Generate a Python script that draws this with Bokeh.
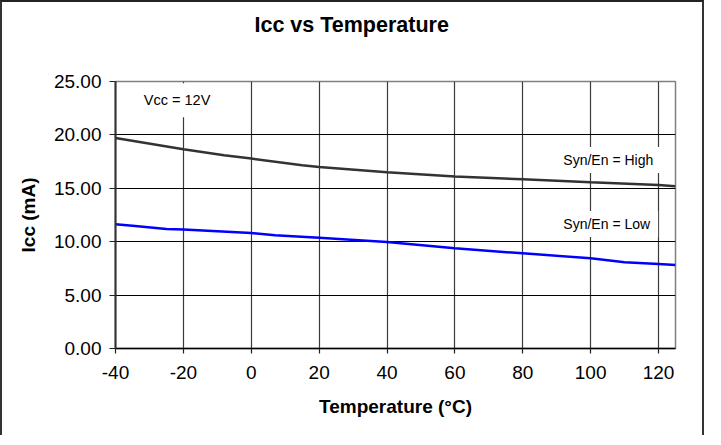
from bokeh.plotting import figure
from bokeh.models import Label, FixedTicker, PrintfTickFormatter, Range1d, Title
from bokeh.embed import file_html
from bokeh.resources import INLINE

# Data
temp_high = [-40, -20, -8, 0, 15, 20, 40, 60, 80, 100, 120, 125]
icc_high = [19.7, 18.65, 18.1, 17.78, 17.15, 17.0, 16.5, 16.1, 15.85, 15.57, 15.32, 15.2]

temp_low = [-40, -35, -25, -20, 0, 7, 20, 40, 60, 80, 100, 110, 120, 125]
icc_low = [11.63, 11.5, 11.2, 11.15, 10.82, 10.6, 10.38, 9.98, 9.38, 8.91, 8.44, 8.08, 7.92, 7.82]

x_ticks = [-40, -20, 0, 20, 40, 60, 80, 100, 120]
y_ticks = [0, 5, 10, 15, 20, 25]

title_text = "Icc vs Temperature"
x_label = "Temperature (°C)"
y_label = "Icc (mA)"
note_vcc = "Vcc = 12V"
note_high = "Syn/En = High"
note_low = "Syn/En = Low"

FONT = "Liberation Sans"

p = figure(width=704, height=435, output_backend="svg", toolbar_location=None,
           x_range=Range1d(-40, 125), y_range=Range1d(0, 25),
           min_border_left=113, min_border_right=31, min_border_top=79, min_border_bottom=89,
           styles={"border-left": "2px solid #333333", "border-top": "2px solid #222222",
                   "border-right": "2px solid #333333"})

# real title outermost, an empty spacer title between it and the plot area
p.title = Title(text=title_text, text_font=FONT, text_font_size="21.5px",
                text_font_style="bold", text_color="black", align="left",
                vertical_align="top", offset=139, standoff=20)
p.add_layout(Title(text=" ", text_font_size="1px", standoff=30), "above")

p.background_fill_color = "white"
p.border_fill_color = "white"
p.outline_line_color = "#808080"
p.outline_line_width = 1.5

# grids
p.xgrid.ticker = FixedTicker(ticks=x_ticks)
p.ygrid.ticker = FixedTicker(ticks=y_ticks)
p.xgrid.grid_line_color = "#3a3a3a"
p.xgrid.grid_line_width = 1.2
p.ygrid.grid_line_color = "black"
p.ygrid.grid_line_width = 1.2

# axes
p.xaxis.ticker = FixedTicker(ticks=x_ticks)
p.yaxis.ticker = FixedTicker(ticks=y_ticks)
p.xaxis.formatter = PrintfTickFormatter(format="%d")
p.yaxis.formatter = PrintfTickFormatter(format="%.2f")
for ax in (p.xaxis, p.yaxis):
    ax.major_label_text_font = FONT
    ax.major_label_text_font_size = "19px"
    ax.major_label_text_color = "black"
    ax.axis_label_text_font = FONT
    ax.axis_label_text_font_size = "19px"
    ax.axis_label_text_font_style = "bold"
    ax.axis_label_text_color = "black"
    ax.minor_tick_line_color = None
    ax.major_tick_in = 0
    ax.major_tick_line_color = "#222222"
    ax.major_tick_line_width = 1.2

p.xaxis.axis_label = x_label
p.yaxis.axis_label = y_label
p.xaxis.axis_line_color = "black"
p.xaxis.axis_line_width = 1.5
p.xaxis.major_tick_out = 5
p.xaxis.major_label_standoff = 12
p.xaxis.axis_label_standoff = 14
p.yaxis.axis_line_color = "#333333"
p.yaxis.axis_line_width = 2
p.yaxis.major_tick_out = 6
p.yaxis.major_label_standoff = 8
p.yaxis.axis_label_standoff = 12

# series
p.line(temp_high, icc_high, line_color="#333333", line_width=2.5)
p.line(temp_low, icc_low, line_color="#0000ff", line_width=2.5)

# notes
p.add_layout(Label(x=-34.0, y=23.24, text=note_vcc, text_font=FONT, text_font_size="14.5px",
                   text_baseline="middle", text_align="left", text_color="black",
                   background_fill_color="white", padding=(8, 9)))
p.add_layout(Label(x=89.6, y=17.64, text=note_high, text_font=FONT, text_font_size="14px",
                   text_baseline="middle", text_align="left", text_color="black",
                   background_fill_color="white", padding=(8, 5)))
p.add_layout(Label(x=89.6, y=11.66, text=note_low, text_font=FONT, text_font_size="14px",
                   text_baseline="middle", text_align="left", text_color="black",
                   background_fill_color="white", padding=(8, 5)))

open("out.html", "w").write(file_html(p, INLINE))
